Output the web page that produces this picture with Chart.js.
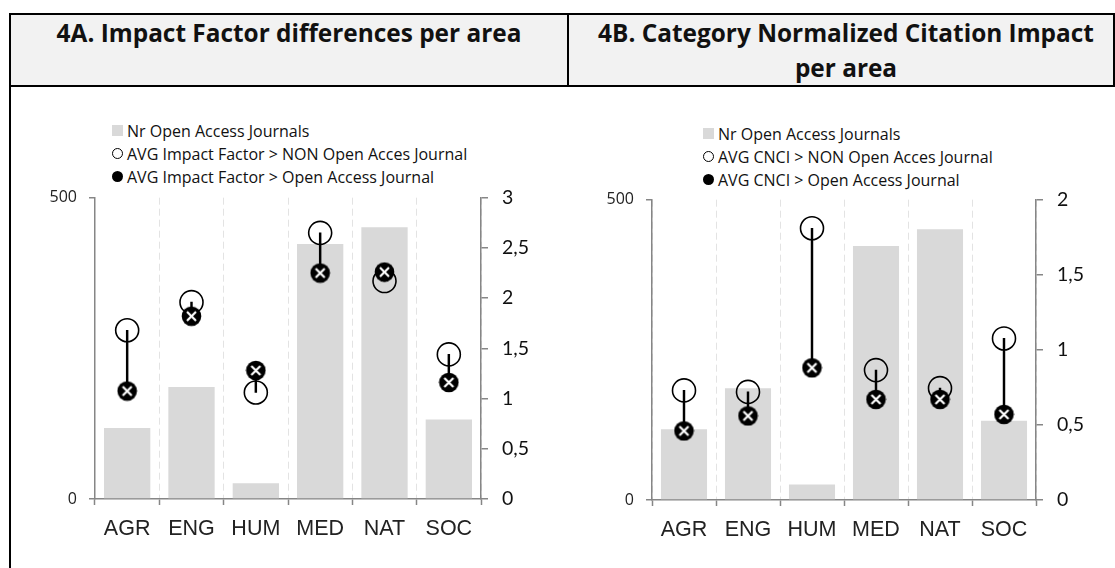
<!DOCTYPE html>
<html><head><meta charset="utf-8">
<script src="https://cdn.jsdelivr.net/npm/chart.js@4.4.1/dist/chart.umd.min.js"></script>
<style>
html,body{margin:0;padding:0;background:#fff;}
body{width:1115px;height:568px;position:relative;overflow:hidden;font-family:'Open Sans',sans-serif;}
.abs{position:absolute;}
.hdrbg{left:9px;top:13px;width:1102px;height:70px;background:#f2f2f2;border:2px solid #000;}
.vline{background:#000;}
.htxt{position:absolute;top:15px;text-align:center;font-family:'Open Sans',sans-serif;font-weight:700;font-size:24.4px;line-height:35px;color:#111;}
.legend{position:absolute;font-family:'Open Sans',sans-serif;font-size:16px;color:#111;}
.legend .row{height:23px;display:flex;align-items:center;white-space:nowrap;}
.legend .mk{width:11px;height:11px;margin-right:4px;box-sizing:border-box;flex:none;}
</style>
</head><body>
<div class="abs hdrbg"></div>
<div class="abs vline" style="left:567px;top:13px;width:2px;height:74px;"></div>
<div class="abs vline" style="left:9px;top:87px;width:2px;height:481px;"></div>
<div class="htxt" style="left:11px;width:556px;">4A. Impact Factor differences per area</div>
<div class="htxt" style="left:572px;width:548px;">4B. Category Normalized Citation Impact<br>per area</div>

<div id="legA" class="legend" style="left:112px;top:119px;"></div>
<div id="legB" class="legend" style="left:703px;top:122px;"></div>

<div class="abs" style="left:12px;top:172px;width:554px;height:396px;"><canvas id="cA"></canvas></div>
<div class="abs" style="left:569px;top:174px;width:543px;height:394px;"><canvas id="cB"></canvas></div>

<script>
// ---- data ----
const categories = ['AGR', 'ENG', 'HUM', 'MED', 'NAT', 'SOC'];
const nrOpenAccessJournals = [118, 186, 26, 423, 451, 132];
const impactFactorNonOA = [1.68, 1.96, 1.06, 2.65, 2.17, 1.44];
const impactFactorOA = [1.075, 1.82, 1.28, 2.25, 2.26, 1.16];
const cnciNonOA = [0.73, 0.72, 1.81, 0.865, 0.745, 1.076];
const cnciOA = [0.46, 0.56, 0.88, 0.67, 0.67, 0.57];
const barLabel = 'Nr Open Access Journals';
const labelsA = ['AVG Impact Factor > NON Open Acces Journal', 'AVG Impact Factor > Open Access Journal'];
const labelsB = ['AVG CNCI > NON Open Acces Journal', 'AVG CNCI > Open Access Journal'];
const rightMaxA = 3, rightMaxB = 2;

// ---- styles ----
const AXIS = '#868686';
const BAR = '#d9d9d9';

function makeFilledMarker() {
  const s = 21, c = s / 2;
  const cv = document.createElement('canvas');
  cv.width = s; cv.height = s;
  const g = cv.getContext('2d');
  g.fillStyle = '#000';
  g.beginPath(); g.arc(c, c, 9.8, 0, Math.PI * 2); g.fill();
  g.strokeStyle = '#fff'; g.lineWidth = 2.2; g.lineCap = 'butt';
  g.beginPath();
  g.moveTo(c - 4.5, c - 4.5); g.lineTo(c + 4.5, c + 4.5);
  g.moveTo(c + 4.5, c - 4.5); g.lineTo(c - 4.5, c + 4.5);
  g.stroke();
  return cv;
}
const filledMarker = makeFilledMarker();

function buildLegend(el, items) {
  items.forEach(it => {
    const row = document.createElement('div'); row.className = 'row';
    const mk = document.createElement('div'); mk.className = 'mk';
    if (it.kind === 'bar') { mk.style.background = BAR; }
    else if (it.kind === 'open') { mk.style.border = '1.5px solid #000'; mk.style.borderRadius = '50%'; }
    else { mk.style.background = '#000'; mk.style.borderRadius = '50%'; }
    const t = document.createElement('span'); t.textContent = it.text;
    row.appendChild(mk); row.appendChild(t); el.appendChild(row);
  });
}

function makeChart(id, openVals, filledVals, labels, rightMax, geom) {
  const ctx = document.getElementById(id);
  return new Chart(ctx, {
    type: 'bar',
    data: {
      labels: categories,
      datasets: [
        { label: labels[1], type: 'line', data: filledVals, yAxisID: 'y1', showLine: false,
          pointStyle: filledMarker, pointRadius: 10, order: 0 },
        { label: labels[0], type: 'line', data: openVals, yAxisID: 'y1', showLine: false,
          pointStyle: 'circle', pointRadius: 11.5, pointBorderWidth: 1.6, pointBorderColor: '#000',
          pointBackgroundColor: 'rgba(0,0,0,0)', order: 1 },
        { label: 'range', data: openVals.map((v, i) => [v, filledVals[i]]), yAxisID: 'y1',
          backgroundColor: '#000', borderWidth: 0, barThickness: 1.8, grouped: false, order: 2 },
        { label: barLabel, data: nrOpenAccessJournals, yAxisID: 'y', backgroundColor: BAR,
          borderWidth: 0, categoryPercentage: 1, barPercentage: 0.72, grouped: false, order: 3 }
      ]
    },
    options: {
      responsive: true, maintainAspectRatio: false, animation: false,
      layout: { padding: { top: geom.top, left: 0, right: 0, bottom: 0 } },
      plugins: { legend: { display: false }, tooltip: { enabled: false } },
      scales: {
        x: {
          offset: true,
          grid: { offset: true, color: '#e3e3e3', lineWidth: 1, tickColor: AXIS, tickLength: 6, tickWidth: 1.5 },
          border: { color: AXIS, width: 1.5, dash: [7, 4] },
          ticks: { color: '#222', padding: 11,
            font: { family: "'Liberation Sans',sans-serif", size: 21.5 } },
          afterFit: s => { s.height = geom.bottom; }
        },
        y: {
          position: 'left', min: 0, max: 500,
          ticks: { stepSize: 500, color: '#222', padding: 12, font: { family: "'Open Sans',sans-serif", size: 16 } },
          grid: { drawOnChartArea: false, color: AXIS, tickLength: 6, lineWidth: 1.5 },
          border: { color: AXIS, width: 1.5 },
          afterFit: s => { s.width = geom.left; }
        },
        y1: {
          position: 'right', min: 0, max: rightMax,
          ticks: { stepSize: 0.5, color: '#111', padding: 14,
            font: { family: "Lato,sans-serif", size: 19.5 },
            callback: v => String(v).replace('.', ',') },
          grid: { drawOnChartArea: false, color: AXIS, tickLength: 7, lineWidth: 1.5 },
          border: { color: AXIS, width: 1.5 },
          afterFit: s => { s.width = geom.right; }
        }
      }
    }
  });
}

makeChart('cA', impactFactorNonOA, impactFactorOA, labelsA, rightMaxA, { top: 12, bottom: 69, left: 83, right: 85 });
makeChart('cB', cnciNonOA, cnciOA, labelsB, rightMaxB, { top: 14, bottom: 68, left: 83, right: 76 });

buildLegend(document.getElementById('legA'), [
  { kind: 'bar', text: barLabel }, { kind: 'open', text: labelsA[0] }, { kind: 'filled', text: labelsA[1] }]);
buildLegend(document.getElementById('legB'), [
  { kind: 'bar', text: barLabel }, { kind: 'open', text: labelsB[0] }, { kind: 'filled', text: labelsB[1] }]);
</script>
</body></html>
